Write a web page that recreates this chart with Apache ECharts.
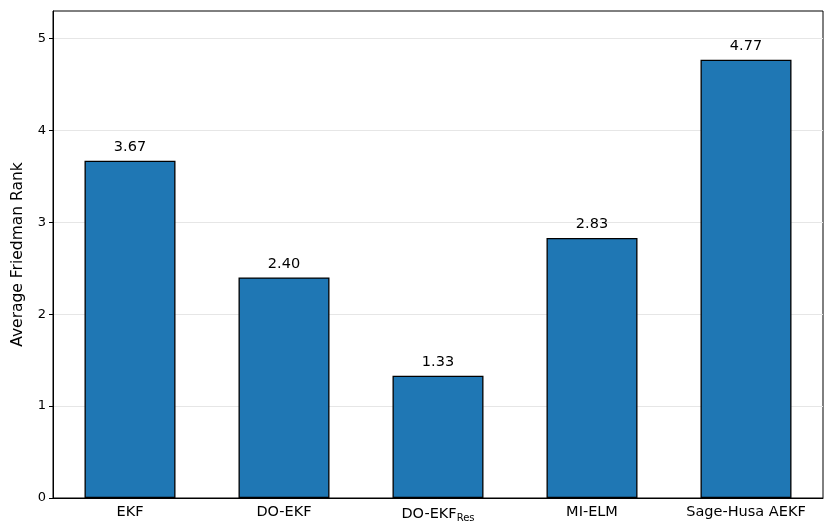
<!DOCTYPE html>
<html>
<head>
<meta charset="UTF-8">
<title></title>
<script type="text/javascript" src="https://cdn.jsdelivr.net/npm/echarts@6/dist/echarts.min.js"></script>
<style type="text/css">
	* { padding: 0; margin: 0; }
	#main { width: 833px; height: 531px; background: #fff; }
</style>
</head>
<body>
<div id="main"></div>
<script type="text/javascript">
	var categories = ['EKF', 'DO-EKF', 'DO-EKF_Res', 'MI-ELM', 'Sage-Husa AEKF'];
	var ranks = [3.67, 2.40, 1.33, 2.83, 4.77];
	var yTicks = [0, 1, 2, 3, 4, 5];

	var myChart = echarts.init(document.getElementById('main'));
	var font = 'DejaVu Sans';

	myChart.setOption({
		animation: false,
		textStyle: { fontFamily: font },
		grid: {
			left: 53, right: 10, top: 11, bottom: 33,
			show: true, borderColor: '#000', borderWidth: 1, backgroundColor: 'transparent'
		},
		xAxis: {
			type: 'category',
			data: categories,
			axisLine: { lineStyle: { color: '#000', width: 1 } },
			axisTick: { alignWithLabel: true, length: 4, lineStyle: { color: '#000' } },
			axisLabel: {
				interval: 0,
				color: '#000', fontSize: 14.5, margin: 7,
				formatter: function (v) {
					var p = v.split('_');
					return p.length > 1 ? p[0] + '{sub|' + p[1] + '}' : v;
				},
				rich: { sub: { fontSize: 10, verticalAlign: 'bottom', padding: [8, 0, 0, 0], color: '#000' } }
			}
		},
		yAxis: {
			type: 'value',
			min: 0, max: 5.3,
			name: 'Average Friedman Rank',
			nameLocation: 'middle',
			nameGap: 27,
			nameTextStyle: { color: '#000', fontSize: 15.5 },
			axisLine: { show: true, lineStyle: { color: '#000' } },
			axisTick: { show: true, length: 4, customValues: yTicks, lineStyle: { color: '#000' } },
			axisLabel: {
				color: '#000', fontSize: 13, margin: 7,
				customValues: yTicks
			},
			splitLine: { lineStyle: { color: '#e6e6e6', width: 1 } }
		},
		series: [{
			type: 'bar',
			data: ranks,
			barWidth: 91,
			itemStyle: { color: '#1f77b4', borderColor: '#000', borderWidth: 1.3 },
			label: {
				show: true, position: 'top', distance: 6,
				color: '#000', fontSize: 14.5,
				formatter: function (p) { return p.value.toFixed(2); }
			}
		}]
	});
</script>
</body>
</html>
